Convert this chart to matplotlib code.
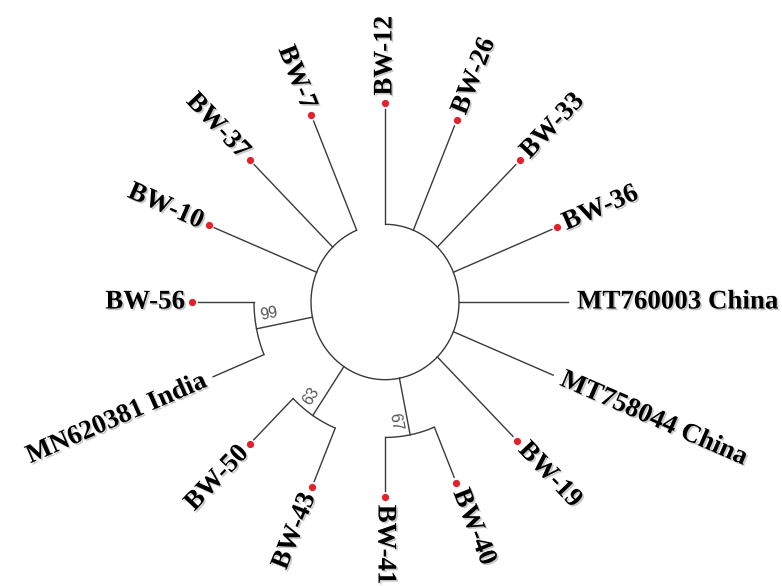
import numpy as np
import matplotlib
matplotlib.use("Agg")
import matplotlib.pyplot as plt
import matplotlib.patheffects as pe

# ---- data: leaves in clockwise order, starting at the top ----
leaves = ["BW-12", "BW-26", "BW-33", "BW-36", "MT760003 China", "MT758044 China",
          "BW-19", "BW-40", "BW-41", "BW-43", "BW-50", "MN620381 India",
          "BW-56", "BW-10", "BW-37", "BW-7"]
has_dot = [True, True, True, True, False, False, True, True, True, True, True,
           False, True, True, True, True]
tip_depth = [183.5, 181.5, 185, 180.6, 183, 182, 181, 180.7, 180, 185, 185.6,
             186, 187, 185, 185, 186.5]
root_depth = 74
clades = [(7, 8), (9, 10), (11, 12)]          # pairs of leaf indices
clade_depth = [129, 130, 131]
bootstrap = ["67", "63", "99"]

# ---- style ----
SY = 1.05                      # vertical stretch of the original image
LINE = "#3a3a3a"
DOT = "#e3202b"
fig = plt.figure(figsize=(7.82, 5.86), dpi=100)
ax = fig.add_axes([0, 0, 1, 1])
ax.axis("off")
cx, cy = 385, 302
ax.set_xlim(-cx, 782 - cx)
ax.set_ylim(-(586 - cy) / SY, cy / SY)

n = len(leaves)
ang = np.array([90 - 360.0 / n * i for i in range(n)])


def pt(r, a):
    t = np.deg2rad(a)
    return r * np.cos(t), r * np.sin(t)


def screen_rot(a):
    t = np.deg2rad(a)
    psi = np.degrees(np.arctan2(SY * np.sin(t), np.cos(t)))
    flip = np.cos(t) < -1e-9
    return (psi + 180 if flip else psi), flip


def arc(r, a0, a1):
    th = np.deg2rad(np.linspace(a0, a1, 200))
    ax.plot(r * np.cos(th), r * np.sin(th), color=LINE, lw=1.0,
            solid_capstyle="butt")


parent = [root_depth] * n
for (i, j), d in zip(clades, clade_depth):
    parent[i] = d
    parent[j] = d

# root arc
arc(root_depth, ang[0], ang[-1])

# clades
for (i, j), d, bs in zip(clades, clade_depth, bootstrap):
    arc(d, ang[i], ang[j])
    phi = (ang[i] + ang[j]) / 2
    x0, y0 = pt(root_depth, phi)
    x1, y1 = pt(d, phi)
    ax.plot([x0, x1], [y0, y1], color=LINE, lw=1.0)
    # bootstrap label near node, on clockwise side of the stem
    t = np.deg2rad(phi)
    lx, ly = pt(d - 15, phi)
    px_, py_ = np.sin(t), -np.cos(t)
    lx += 12 * px_
    ly += 12 * py_ / SY
    rot, _ = screen_rot(phi)
    ax.text(lx, ly, bs, rotation=rot, rotation_mode="anchor", ha="center",
            va="center", fontsize=11.5, color="#555555",
            family=["Liberation Sans", "DejaVu Sans"])

# leaves
shadow = [pe.withSimplePatchShadow(offset=(1.2, -1.2), shadow_rgbFace="#888888",
                                   alpha=0.45)]
for k in range(n):
    a = ang[k]
    x0, y0 = pt(parent[k], a)
    x1, y1 = pt(tip_depth[k], a)
    ax.plot([x0, x1], [y0, y1], color=LINE, lw=1.0)
    if has_dot[k]:
        dx, dy = pt(tip_depth[k] + 6, a)
        ax.plot([dx], [dy], "o", color=DOT, ms=5.2, mec="none")
        rt = tip_depth[k] + 13
    else:
        rt = tip_depth[k] + 9
    tx, ty = pt(rt, a)
    rot, flip = screen_rot(a)
    ax.text(tx, ty, leaves[k], rotation=rot, rotation_mode="anchor",
            ha="right" if flip else "left", va="center", fontsize=19.4,
            fontweight="bold", family=["Liberation Serif", "DejaVu Serif"],
            color="black", path_effects=shadow)

fig.savefig("out.png", dpi=100)
